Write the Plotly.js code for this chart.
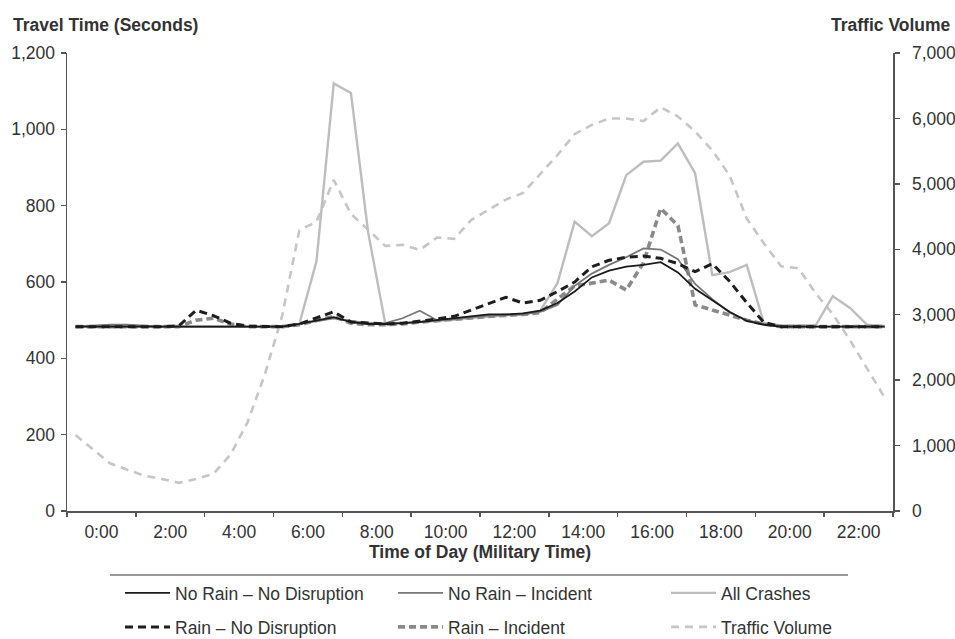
<!DOCTYPE html>
<html>
<head>
<meta charset="utf-8">
<script src="https://cdn.plot.ly/plotly-3.0.1.min.js"></script>
<style>
html,body{margin:0;padding:0;background:#fff;}
#chart{width:955px;height:639px;}
</style>
</head>
<body>
<div id="chart"></div>
<script>
// ---- data (half-hour intervals) ----
const hours = [0,0.5,1,1.5,2,2.5,3,3.5,4,4.5,5,5.5,6,6.5,7,7.5,8,8.5,9,9.5,10,10.5,11,11.5,
               12,12.5,13,13.5,14,14.5,15,15.5,16,16.5,17,17.5,18,18.5,19,19.5,20,20.5,21,21.5,22,22.5,23,23.5];

const noRainNoDisruption = [483,483,483,483,483,483,483,483,483,483,483,483,483,490,500,508,495,490,490,492,
                            495,500,505,510,515,515,518,525,545,575,612,630,640,645,652,625,582,552,522,498,
                            488,483,483,483,483,483,483,483];
const noRainIncident = [483,486,488,488,485,483,483,483,483,483,483,483,483,490,498,505,498,492,492,505,
                        525,500,502,508,512,513,515,522,540,590,622,645,665,688,685,660,595,555,520,500,
                        490,483,483,483,483,483,483,483];
const allCrashes = [483,483,483,483,483,483,483,483,483,483,483,483,483,490,655,1120,1095,730,490,493,
                    495,498,502,506,510,513,515,525,597,758,720,754,880,915,918,963,885,618,626,645,
                    492,486,486,486,563,532,488,485];
const rainNoDisruption = [483,483,483,483,483,483,485,526,512,492,484,483,483,490,505,522,495,492,490,492,
                          497,503,510,527,545,560,545,552,575,600,640,657,665,668,662,648,627,648,602,546,
                          494,483,483,483,483,483,483,483];
const rainIncident = [483,483,483,483,483,483,483,500,505,490,483,483,483,488,500,510,492,488,488,490,
                      495,498,502,506,510,512,515,520,555,590,597,605,579,650,793,748,540,527,515,500,
                      490,483,483,483,483,483,483,483];
const trafficVolume = [1160,940,730,630,540,490,430,490,565,860,1360,2090,2980,4290,4420,5060,4540,4300,4050,4070,
                       3990,4180,4160,4450,4600,4760,4860,5150,5440,5760,5900,6000,6000,5960,6170,6030,5800,5510,5130,4470,
                       4090,3740,3710,3330,3010,2610,2180,1740];

const tickHours = [0,2,4,6,8,10,12,14,16,18,20,22];
const tickLabels = ['0:00','2:00','4:00','6:00','8:00','10:00','12:00','14:00','16:00','18:00','20:00','22:00'];
const travelTicks = [0,200,400,600,800,1000,1200];
const volumeTicks = [0,1000,2000,3000,4000,5000,6000,7000];

// ---- layout helpers ----
const W = 955, H = 639, L = 67, R = 893, T = 53, B = 511;
const xp = px => (px - L) / (R - L);
const yp = py => (B - py) / (B - T);
const FONT = "'Liberation Sans',Arial,sans-serif";
const FS = 17.5;
const TXT = '#333333';
const AX = '#555555';

const traces = [
  {name:'Traffic Volume', x:hours, y:trafficVolume, yaxis:'y', xaxis:'x', mode:'lines',
   line:{color:'#c6c6c6', width:2.6, dash:'8px,6px'}, legend:'legend2', legendrank:3},
  {name:'All Crashes', x:hours, y:allCrashes, yaxis:'y2', xaxis:'x', mode:'lines',
   line:{color:'#bdbdbd', width:2.4}, legend:'legend', legendrank:3},
  {name:'Rain – Incident', x:hours, y:rainIncident, yaxis:'y2', xaxis:'x', mode:'lines',
   line:{color:'#8a8a8a', width:3.6, dash:'7px,4px'}, legend:'legend2', legendrank:2},
  {name:'No Rain – Incident', x:hours, y:noRainIncident, yaxis:'y2', xaxis:'x', mode:'lines',
   line:{color:'#777777', width:1.8}, legend:'legend', legendrank:2},
  {name:'Rain – No Disruption', x:hours, y:rainNoDisruption, yaxis:'y2', xaxis:'x', mode:'lines',
   line:{color:'#1e1e1e', width:3, dash:'8px,5px'}, legend:'legend2', legendrank:1},
  {name:'No Rain – No Disruption', x:hours, y:noRainNoDisruption, yaxis:'y2', xaxis:'x', mode:'lines',
   line:{color:'#1a1a1a', width:1.8}, legend:'legend', legendrank:1}
];

const legendBase = {
  orientation:'h', xanchor:'left', yanchor:'middle', x:xp(120),
  itemwidth:45, entrywidth:213, entrywidthmode:'pixels', bgcolor:'rgba(0,0,0,0)', borderwidth:0,
  font:{family:FONT, size:FS, color:TXT}, traceorder:'normal'
};

const layout = {
  width:W, height:H,
  margin:{l:L, r:W-R, t:T, b:H-B, pad:0, autoexpand:false},
  paper_bgcolor:'#ffffff', plot_bgcolor:'#ffffff',
  font:{family:FONT, size:FS, color:TXT},
  showlegend:true,
  xaxis:{
    range:[-0.25, 23.75], showgrid:false, zeroline:false,
    showline:true, linecolor:AX, linewidth:1.5,
    tickmode:'array', tickvals:tickHours.map(h => h + 0.75), ticktext:tickLabels,
    ticks:'', tickfont:{family:FONT, size:FS, color:TXT}, ticklabelstandoff:4,
    minor:{tickmode:'array', tickvals:tickHours.map(h => h - 0.25).concat([23.75]),
           ticks:'outside', ticklen:4, tickwidth:1.5, tickcolor:AX, showgrid:false},
    title:{text:'<b>Time of Day (Military Time)</b>', font:{family:FONT, size:FS, color:TXT}, standoff:4},
    fixedrange:true
  },
  yaxis:{
    side:'right', range:[0,7000], showgrid:false, zeroline:false,
    showline:true, linecolor:AX, linewidth:1.5,
    tickmode:'array', tickvals:volumeTicks, tickformat:',d',
    ticks:'outside', ticklen:5, tickwidth:1.5, tickcolor:AX, ticklabelstandoff:9,
    tickfont:{family:FONT, size:FS, color:TXT}, fixedrange:true
  },
  yaxis2:{
    side:'left', overlaying:'y', range:[0,1200], showgrid:false, zeroline:false,
    showline:true, linecolor:AX, linewidth:1.5,
    tickmode:'array', tickvals:travelTicks, tickformat:',d',
    ticks:'outside', ticklen:5, tickwidth:1.5, tickcolor:AX, ticklabelstandoff:2,
    tickfont:{family:FONT, size:FS, color:TXT}, fixedrange:true
  },
  legend:Object.assign({}, legendBase, {y:yp(593)}),
  legend2:Object.assign({}, legendBase, {y:yp(627)}),
  annotations:[
    {text:'<b>Travel Time (Seconds)</b>', xref:'paper', yref:'paper', x:xp(11), y:yp(25),
     xanchor:'left', yanchor:'middle', showarrow:false, font:{family:FONT, size:FS, color:TXT}},
    {text:'<b>Traffic Volume</b>', xref:'paper', yref:'paper', x:xp(953), y:yp(25),
     xanchor:'right', yanchor:'middle', showarrow:false, font:{family:FONT, size:FS, color:TXT}}
  ],
  shapes:[
    {type:'line', xref:'paper', yref:'paper', x0:xp(110), x1:xp(848), y0:yp(575), y1:yp(575),
     line:{color:'#777777', width:1.5}, layer:'below'}
  ]
};

Plotly.newPlot('chart', traces, layout, {displayModeBar:false, staticPlot:true});
</script>
</body>
</html>
